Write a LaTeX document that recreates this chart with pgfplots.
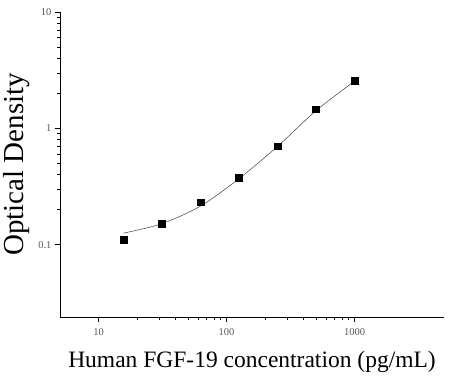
\documentclass[border=0pt]{standalone}
\usepackage{fontspec}
\setmainfont{Liberation Serif}
\usepackage{pgfplots}
\pgfplotsset{compat=1.18}

\begin{document}
\begin{tikzpicture}
% fixed page frame around the axis box
\path[use as bounding box] (-60pt,-67pt) rectangle (395pt,317pt);
\begin{axis}[
  at={(0,0)}, anchor=south west,
  scale only axis,
  width=384pt, height=305pt,
  xmode=log, ymode=log,
  xmin=5, xmax=5000,
  ymin=0.024, ymax=10,
  axis x line*=bottom, axis y line*=left,
  axis line style={line width=0.9pt, -},
  tick align=outside,
  major tick length=5pt, minor tick length=3pt,
  every tick/.style={black, line width=0.7pt},
  log ticks with fixed point,
  /pgf/number format/1000 sep={},
  xtick={10,100,1000}, ytick={0.1,1,10},
  /pgf/number format/assume math mode=true,
  tick label style={font=\fontsize{10.5}{12}\selectfont, text=black!65},
  xticklabel style={yshift=-3pt},
  xlabel={Human FGF-19 concentration (pg/mL)},
  ylabel={Optical Density},
  xlabel style={font=\fontsize{23.5}{26}\selectfont,
    at={(axis description cs:0.5,0)}, anchor=center, yshift=-45pt},
  ylabel style={font=\fontsize{29}{32}\selectfont,
    at={(axis description cs:0,0.5)}, anchor=center, yshift=43pt},
]
% fitted standard curve
\addplot[black!65, line width=0.6pt, smooth, mark=none] coordinates {
  (15.625,0.126) (31.25,0.152) (62.5,0.215) (125,0.370)
  (250,0.700) (500,1.420) (1000,2.550)
};
% measured standards
\addplot[only marks, mark=square*, mark size=3.4pt, black] coordinates {
  (15.625,0.110) (31.25,0.152) (62.5,0.232) (125,0.376)
  (250,0.703) (500,1.460) (1000,2.590)
};
\end{axis}
\end{tikzpicture}
\end{document}
